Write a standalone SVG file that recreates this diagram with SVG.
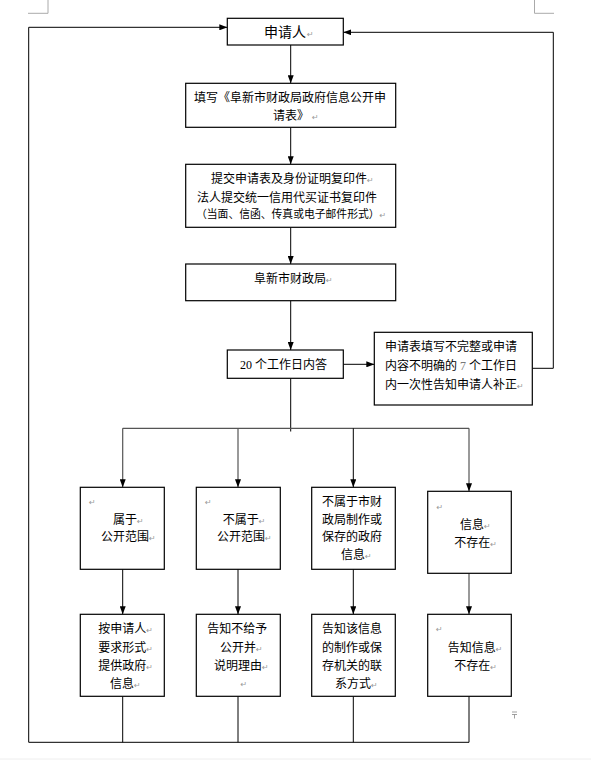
<svg xmlns="http://www.w3.org/2000/svg" width="591" height="760" viewBox="0 0 591 760">
<style>
.box{fill:#fff;stroke:#000;stroke-width:1.2}
.ln{fill:none;stroke:#000;stroke-width:1}
.gl{fill:none;stroke:#555;stroke-width:1.2}
.mk{fill:none;stroke:#aaa;stroke-width:1}
text{font-family:"Noto Sans CJK SC","Noto Sans CJK JP",sans-serif;font-size:12px;fill:#000}
.big{font-size:14px}
.pm{font-family:"DejaVu Sans",sans-serif;font-size:8px;fill:#999}
.num{font-family:"Liberation Serif","Times New Roman",serif;font-size:12px}
</style>
<defs>
<marker id="ah" viewBox="0 0 8 6" refX="8" refY="3" markerWidth="8" markerHeight="6" orient="auto" markerUnits="userSpaceOnUse">
<path d="M0,0 L8,3 L0,6 z" fill="#000"/>
</marker>
</defs>
<rect width="591" height="760" fill="#fff"/>
<g id="page-marks">
<path class="mk" d="M28,13.3 H48 V0 M534.5,0 V13.3 H554"/>
<line x1="0" y1="759" x2="591" y2="759" stroke="#eee" stroke-width="1"/>
<path d="M512,712 H517 M512,714.5 H517 M514.5,714.5 V718.5" fill="none" stroke="#888" stroke-width="0.8"/>
</g>
<g id="connectors">
<line class="ln" x1="290.7" y1="45" x2="290.7" y2="83.3" marker-end="url(#ah)"/>
<line class="ln" x1="290.7" y1="127.3" x2="290.7" y2="164.3" marker-end="url(#ah)"/>
<line class="ln" x1="290.7" y1="227.3" x2="290.7" y2="264" marker-end="url(#ah)"/>
<line class="ln" x1="290.7" y1="300.7" x2="290.7" y2="350" marker-end="url(#ah)"/>
<line class="ln" x1="343.3" y1="364.3" x2="374.3" y2="364.3" marker-end="url(#ah)"/>
<path class="ln" d="M532.3,368.3 H553.3 V32.3 H343.3" marker-end="url(#ah)"/>
<line class="ln" x1="290.7" y1="378.3" x2="290.7" y2="431.5"/>
<line class="gl" x1="122.7" y1="428.3" x2="469" y2="428.3"/>
<path class="gl" d="M122.7,428.3 V487.3" marker-end="url(#ah)"/>
<path class="gl" d="M238,428.3 V487.3" marker-end="url(#ah)"/>
<path class="ln" d="M353.3,428.3 V487.3" marker-end="url(#ah)"/>
<path class="gl" d="M469,428.3 V491.3" marker-end="url(#ah)"/>
<line class="ln" x1="122.7" y1="569.3" x2="122.7" y2="614.3" marker-end="url(#ah)"/>
<line class="ln" x1="238" y1="569.3" x2="238" y2="614.3" marker-end="url(#ah)"/>
<line class="ln" x1="353.3" y1="569.3" x2="353.3" y2="614.3" marker-end="url(#ah)"/>
<line class="gl" x1="469" y1="573.3" x2="469" y2="614.3" marker-end="url(#ah)"/>
<path class="ln" d="M122.7,696.3 V742.3 M238,696.3 V742.3 M353.3,696.3 V742.3 M469,696.3 V742.3 H28.7 V27.3 H227.3" marker-end="url(#ah)"/>
</g>
<g id="n-applicant">
<rect class="box" x="227.3" y="18.3" width="116" height="26.7"/>
<text class="big" x="264" y="37">申请人<tspan class="pm" dx="1">↵</tspan></text>
</g>
<g id="n-form">
<rect class="box" x="185.7" y="83.3" width="210" height="44"/>
<text x="194" y="101.5">填写《阜新市财政局政府信息公开申</text>
<text x="273" y="119.5">请表》<tspan class="pm" dx="3">↵</tspan></text>
</g>
<g id="n-submit">
<rect class="box" x="185.7" y="164.3" width="210" height="63"/>
<text x="211" y="182.5">提交申请表及身份证明复印件<tspan class="pm">↵</tspan></text>
<text x="197" y="201.5">法人提交统一信用代买证书复印件</text>
<text x="196" y="218" style="font-size:10.8px">（当面、信函、传真或电子邮件形式）<tspan class="pm">↵</tspan></text>
</g>
<g id="n-bureau">
<rect class="box" x="185.7" y="264" width="210" height="36.7"/>
<text x="254" y="282.5">阜新市财政局<tspan class="pm">↵</tspan></text>
</g>
<g id="n-20days">
<rect class="box" x="227.3" y="350" width="116" height="28.3"/>
<text x="240" y="368.5"><tspan class="num">20 </tspan>个工作日内答</text>
</g>
<g id="n-incomplete">
<rect class="box" x="374.3" y="332.3" width="158" height="72.7"/>
<text x="385" y="351">申请表填写不完整或申请</text>
<text x="385" y="370">内容不明确的<tspan class="num" fill="#777"> 7 </tspan>个工作日</text>
<text x="385" y="388.5">内一次性告知申请人补正<tspan class="pm">↵</tspan></text>
</g>
<g id="n-public">
<rect class="box" x="80.3" y="487.3" width="84" height="82"/>
<text class="pm" x="89" y="505">↵</text>
<text x="113" y="523.5">属于<tspan class="pm">↵</tspan></text>
<text x="101" y="541">公开范围<tspan class="pm">↵</tspan></text>
</g>
<g id="n-notpublic">
<rect class="box" x="196.3" y="487.3" width="84" height="82"/>
<text class="pm" x="205" y="505">↵</text>
<text x="222.7" y="523.5">不属于<tspan class="pm">↵</tspan></text>
<text x="217" y="541">公开范围<tspan class="pm">↵</tspan></text>
</g>
<g id="n-notbureau">
<rect class="box" x="311.7" y="487.3" width="83.6" height="82"/>
<text x="322" y="506">不属于市财</text>
<text x="322" y="523.5">政局制作或</text>
<text x="322" y="541">保存的政府</text>
<text x="341" y="559">信息<tspan class="pm">↵</tspan></text>
</g>
<g id="n-notexist">
<rect class="box" x="427.7" y="491.3" width="83.6" height="82"/>
<text class="pm" x="436.5" y="509.5">↵</text>
<text x="460" y="528.5">信息<tspan class="pm">↵</tspan></text>
<text x="454.3" y="547">不存在<tspan class="pm">↵</tspan></text>
</g>
<g id="n-provide">
<rect class="box" x="80.3" y="614.3" width="84" height="82"/>
<text x="98.3" y="633">按申请人<tspan class="pm">↵</tspan></text>
<text x="98.3" y="651.5">要求形式<tspan class="pm">↵</tspan></text>
<text x="98.3" y="669.5">提供政府<tspan class="pm">↵</tspan></text>
<text x="110" y="687.5">信息<tspan class="pm">↵</tspan></text>
</g>
<g id="n-refuse">
<rect class="box" x="196.3" y="614.3" width="84" height="82"/>
<text x="207.3" y="633">告知不给予</text>
<text x="220" y="651.5">公开并<tspan class="pm">↵</tspan></text>
<text x="214" y="669.5">说明理由<tspan class="pm">↵</tspan></text>
<text class="pm" x="240.5" y="686.5">↵</text>
</g>
<g id="n-contact">
<rect class="box" x="311.7" y="614.3" width="83.6" height="82"/>
<text x="322" y="633">告知该信息</text>
<text x="322" y="651.5">的制作或保</text>
<text x="322" y="669.5">存机关的联</text>
<text x="335" y="687.5">系方式<tspan class="pm">↵</tspan></text>
</g>
<g id="n-tellnotexist">
<rect class="box" x="427.7" y="614.3" width="83.6" height="82"/>
<text class="pm" x="436" y="632">↵</text>
<text x="447.7" y="651.5">告知信息<tspan class="pm">↵</tspan></text>
<text x="454.3" y="669.5">不存在<tspan class="pm">↵</tspan></text>
</g>
</svg>
